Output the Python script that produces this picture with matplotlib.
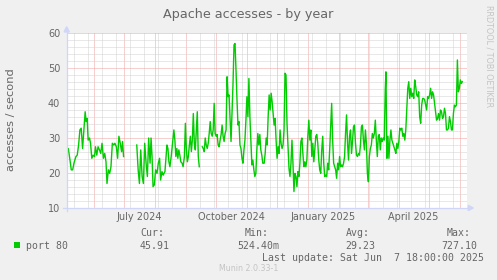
import numpy as np
import pandas as pd
import matplotlib
matplotlib.use("Agg")
import matplotlib.pyplot as plt
import matplotlib.dates as mdates
from matplotlib.patches import Polygon, Rectangle
from matplotlib.lines import Line2D

# ---------------- data ----------------
TITLE = "Apache accesses - by year"
YLABEL = "accesses / second"
SERIES = "port 80"
X_LABELS = ["July 2024", "October 2024", "January 2025", "April 2025"]
X_LABEL_DATES = ["2024-07-16", "2024-10-16", "2025-01-16", "2025-04-16"]
Y_TICKS = [10, 20, 30, 40, 50, 60]
STATS_HEAD = ["Cur:", "Min:", "Avg:", "Max:"]
STATS_VAL = ["45.91", "524.40m", "29.23", "727.10"]
LAST_UPDATE = "Last update: Sat Jun  7 18:00:00 2025"
WATERMARK = "Munin 2.0.33-1"
RRD = "RRDTOOL / TOBI OETIKER"

START = "2024-05-04 15:36"     # left edge of the time axis
SPAN_DAYS = 396.3              # time span of the 400 sample columns

# samples: day index (column) -> accesses/second
d9a = [0.6, 1.6, 3.3, 4.6, 6.0, 7.3, 8.3, 9.3, 10.6, 12.0, 13.3, 14.6, 16.0, 17.3, 18.6,
       19.6, 20.6, 21.6, 23.0, 24.0, 25.3, 26.6, 28.0, 29.0, 30.3, 31.6, 33.0, 34.3, 35.6,
       37.0, 38.3, 39.6, 40.6, 42.0, 43.3, 44.6, 46.0, 47.3, 48.6, 50.0, 51.3, 52.6, 54.0,
       55.3, 56.3, 57.3]
v9a = [27, 27, 23.7, 20.9, 20.9, 22.8, 23.7, 24.7, 25.1, 28, 32.3, 32.8, 27, 32.3, 37.5,
       34.7, 35.6, 29.4, 30, 28.5, 24.2, 25.1, 24.7, 27.5, 25.1, 27.5, 26.6, 25.6, 28.5,
       24.2, 25.6, 23.2, 17, 20.9, 19.9, 21.8, 28.5, 28, 28.5, 27.5, 24.2, 30.5, 28.5,
       26.1, 29, 24.7]
gap1 = [64.0]
d9b = [70.6, 72.0, 73.3, 74.6, 76.0, 77.3, 78.6, 80.0, 81.3, 82.6, 84.0, 85.0, 86.0, 87.0,
       88.3, 89.6, 91.0, 92.3, 93.6, 94.6, 96.0, 97.3]
v9b = [28, 20.9, 17, 26.6, 19, 17, 28.5, 22.8, 19, 30, 22.8, 30, 24.7, 16.1, 16.6, 20.9,
       19.9, 22.8, 24.2, 18, 20.4, 19.4]
d10a = [98.0, 99.0, 100.0, 101.0, 102.0, 103.0, 104.0, 105.3, 106.6, 108.0, 109.0, 110.0,
        111.0, 112.0, 113.0, 114.0, 115.0, 116.3, 117.3, 118.6, 119.6, 120.6, 121.6, 122.6,
        123.6, 124.6, 125.6, 126.6, 127.6, 128.6, 129.6, 130.6, 131.6, 132.6, 133.6]
v10a = [19.9, 20.4, 24.2, 28, 27, 23.2, 21.8, 24.7, 28.5, 32.3, 29.4, 24.7, 27, 24.2, 26.6,
        25.1, 23.2, 22.8, 21.8, 24.7, 34.2, 26.6, 23.2, 24.7, 28, 30.5, 26.1, 29.4, 37, 28.5,
        26.6, 32.3, 37.5, 24.7, 21.8]
gap2 = [135.0]
start10b = 136.6
v10b = [27.5, 27, 26.1, 30, 28, 27, 28.5, 31.3, 34.7, 31.3, 30.5, 32.3, 39.9, 31.3, 30.5,
        31, 28, 27.5, 29.4, 31, 33.7, 30.5, 29, 31.3, 32.3, 47.5, 41.8, 42.3, 35.6, 29, 37,
        45.6, 56.6, 57, 49.4, 40.9, 33.7, 34.7, 28, 27, 24.2, 22.8, 26.6, 29.4, 35.1, 41.8,
        36.1, 47, 36.1, 29.4, 22.3, 23.7, 20.9, 19, 19.9, 26.6, 31.3, 28, 31, 26.6, 25.1, 22.8]
start11 = 199.0
v11 = [22.8, 25.6, 30, 28, 36.1, 42.3, 38, 42.8, 40.4, 37, 33.7, 35.6, 29.4, 24.2, 27.5,
       25.6, 32.3, 28.5, 27, 28, 32.3, 48.5, 48, 34.2, 28, 21.3, 19, 22.8, 29.4, 22.8, 14.7,
       19.9, 19, 16.1, 20.4, 19, 22.8, 29, 30, 25.6, 21.8, 23.2, 21.8, 23.7, 30.5, 35.1,
       29.4, 32.3, 24.7, 28.5, 23.2, 26.6, 30.5, 31, 28.5, 23.7, 20.9, 19.9, 26.6, 30.5,
       22.8, 19, 19.4, 19, 22.8, 20.9, 26.6, 33.2, 39.9, 29.4, 22.8, 21.8, 20.9, 18.5, 22.8,
       20.9, 24.7, 21.8, 22.3, 21.8, 22.8, 24.7, 31.3, 36.6, 28.5, 23.7, 30.5, 32.3, 25.6,
       29, 33.2, 33.7, 28.5, 25.1, 24.7, 25.6, 25.1, 28, 33.2, 33.7, 29.4]
start12a = 300.0
v12a = [26.6, 32.3, 28.5, 19.9, 17.5, 24.7, 27, 28, 31.3, 30, 31.3, 35.1, 29.4, 24.7, 30.5,
        31, 26.6, 30, 29, 30, 29.4, 43.7]
start12b = 321.7
v12b = [48.9, 24.2, 30.5, 24.2, 29.4, 32.3, 29.4, 28.5, 27.5, 26.6, 25.6, 28.5, 27, 29,
        32.8, 32.3, 32.8, 30.5, 31.3, 29.4, 32.3, 38, 44.2, 46.1, 41.3, 44.2, 41.8, 42.8,
        41.3, 46.6, 44.7, 42.3, 41.8, 43.2, 36.1, 34.2, 39.4, 41.3, 41.3, 40.9, 39.4, 38,
        41.8, 41.3, 42.3, 44.2, 41.3, 43.2, 42.3, 39.9, 37.5, 35.1, 35.6, 37, 35.1, 38, 37.5,
        35.6, 36.1, 38.5, 37, 32.3, 32.3, 32.8, 36.1, 34.7, 32.3, 32.3, 37, 39.4, 38.9, 39.4,
        52.3, 43.2, 44.2, 46.6, 45.6, 46.1]

# ---------------- assemble ----------------
days = np.concatenate([
    d9a, gap1, d9b, d10a, gap2,
    start10b + np.arange(len(v10b)),
    start11 + np.arange(len(v11)),
    start12a + np.arange(len(v12a)),
    start12b + np.arange(len(v12b)),
])
vals = np.concatenate([v9a, [np.nan], v9b, v10a, [np.nan], v10b, v11, v12a, v12b])

t0 = mdates.date2num(pd.Timestamp(START))
scale = SPAN_DAYS / 400.0
x = t0 + days * scale

# ---------------- style ----------------
BG = "#F0F0F0"
FONT = "#666666"
AXIS = "#CFD6F8"
MGRID = "#F2A0A0"
GRID = "#D2D2D2"
GREEN = "#00CC00"

W, H = 497, 280
fig = plt.figure(figsize=(W / 100, H / 100), dpi=100, facecolor=BG)


def fx(px):
    return px / W


def fy(py):
    return 1 - py / H


ax = fig.add_axes([fx(66.7), fy(208), 400 / W, 175 / H])
ax.set_facecolor("white")
for s in ax.spines.values():
    s.set_visible(False)

ax.set_xlim(t0, t0 + SPAN_DAYS)
ax.set_ylim(10, 60)

major_x = mdates.date2num(pd.date_range("2024-06-01", "2025-06-01", freq="MS"))
minor_x = mdates.date2num(pd.date_range("2024-05-12", "2025-06-10", freq="14D"))
ax.set_xticks(major_x)
ax.set_xticks(minor_x, minor=True)
ax.set_yticks(Y_TICKS)
ax.set_yticklabels([str(v) for v in Y_TICKS])
ax.set_yticks(np.arange(10, 61, 2), minor=True)

ax.tick_params(axis="x", which="both", length=0, labelbottom=False)
ax.tick_params(axis="y", which="both", length=0, pad=4.6, labelsize=7, labelcolor=FONT)

dots = (0, (1, 1))
ax.grid(which="minor", color=GRID, linestyle=dots, linewidth=0.72)
ax.grid(which="major", color=MGRID, linestyle=dots, linewidth=0.72)
ax.set_axisbelow(True)

ax.plot(x, vals, color=GREEN, linewidth=1.0, solid_joinstyle="round", zorder=3)

# x labels (mid-month)
for lab, d in zip(X_LABELS, X_LABEL_DATES):
    ax.text(mdates.date2num(pd.Timestamp(d)), -12 / 175, lab, transform=ax.get_xaxis_transform(),
            ha="center", va="baseline", fontsize=7, color=FONT, family="DejaVu Sans")

# axes lines with arrows
ax.add_line(Line2D([0, 0], [-2.7 / 175, 1.007], transform=ax.transAxes, color=AXIS,
                   lw=0.9, clip_on=False, zorder=4))
ax.add_line(Line2D([-3.4 / 400, 1.006], [0, 0], transform=ax.transAxes, color=AXIS,
                   lw=0.9, clip_on=False, zorder=4))
ax.add_patch(Polygon([[0, 1.036], [-2.6 / 400, 1.006], [2.6 / 400, 1.006]], closed=True,
                     transform=ax.transAxes, color=AXIS, clip_on=False, zorder=4))
ax.add_patch(Polygon([[1.0165, 0], [1.004, 2.6 / 175], [1.004, -2.6 / 175]], closed=True,
                     transform=ax.transAxes, color=AXIS, clip_on=False, zorder=4))

# title and labels
fig.text(0.5, fy(18.3), TITLE, ha="center", va="baseline", fontsize=9.2, color=FONT,
         family="DejaVu Sans")
fig.text(fx(11), fy(119.2), YLABEL, rotation=90, ha="center", va="center", fontsize=8.2,
         color=FONT, family="DejaVu Sans")
fig.text(fx(489), fy(5), RRD, rotation=270, ha="center", va="top", fontsize=5.8,
         color="#C4C4C4", family="DejaVu Sans")

# legend
fig.add_artist(Rectangle((fx(14), fy(248.3)), 6 / W, 6 / H, transform=fig.transFigure,
                         facecolor=GREEN, edgecolor="none"))
mono = dict(family="DejaVu Sans Mono", fontsize=7.1, color=FONT, va="baseline")
fig.text(fx(26), fy(249), SERIES, ha="left", **mono)
head_x = [140, 244.3, 345.5, 446.6]
val_x = [140, 237.6, 345.4, 441]
for h, hx in zip(STATS_HEAD, head_x):
    fig.text(fx(hx), fy(236.3), h, ha="left", **mono)
for v, vx in zip(STATS_VAL, val_x):
    fig.text(fx(vx), fy(249), v, ha="left", **mono)
fig.text(fx(484), fy(260.7), LAST_UPDATE, ha="right", **mono)
fig.text(fx(248.3), fy(270.7), WATERMARK, ha="center", va="baseline", fontsize=5.7,
         color="#C4C4C4", family="DejaVu Sans")

fig.savefig("out.png", dpi=100, facecolor=BG)
